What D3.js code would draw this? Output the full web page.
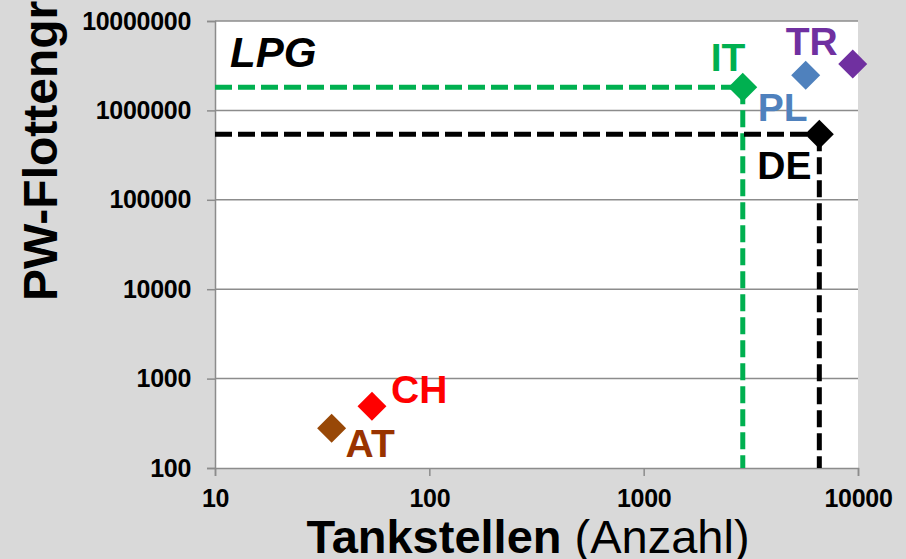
<!DOCTYPE html>
<html>
<head>
<meta charset="utf-8">
<script src="https://cdn.jsdelivr.net/npm/d3@7"></script>
<style>
    body { margin: 0; background: #d9d9d9; }
    svg { display: block; font-family: "Liberation Sans", Arial, sans-serif; }
</style>
</head>
<body>
<svg id="chart"></svg>
<script>
'use strict';

// LPG: number of filling stations vs. passenger car fleet, per country
var countries = ['AT', 'CH', 'IT', 'PL', 'TR', 'DE'];
var tankstellen = [35, 54, 2900, 5700, 9450, 6600];
var flotte = [278, 490, 1810000, 2480000, 3300000, 540000];
var xTicks = [10, 100, 1000, 10000];
var yTicks = [100, 1000, 10000, 100000, 1000000, 10000000];
// countries with reference lines to the axes
var markedCountries = ['IT', 'DE'];

var width = 906, height = 559;
var margin = { top: 21, right: 48, bottom: 91, left: 215 };

var colors = { AT: '#984807', CH: '#ff0000', IT: '#00b050', PL: '#4f81bd', TR: '#7030a0', DE: '#000000' };
var labelColors = { AT: '#993300', CH: '#ff0000', IT: '#00b050', PL: '#4f81bd', TR: '#7030a0', DE: '#000000' };
// label offset from the marker centre (text-anchor start, baseline)
var labelOffsets = { AT: [14, 29], CH: [19, -3], IT: [-32, -16], PL: [-48, 46], TR: [-67, -9], DE: [-62, 45] };

var svg = d3.select('#chart').attr('width', width).attr('height', height);

svg.append('rect').attr('width', width).attr('height', height).attr('fill', '#d9d9d9');

var x = d3.scaleLog().domain([10, 10000]).range([margin.left, width - margin.right]);
var y = d3.scaleLog().domain([100, 10000000]).range([height - margin.bottom, margin.top]);

var points = countries.map(function (c, i) {
    return { name: c, x: tankstellen[i], y: flotte[i] };
});

// plot area
svg.append('rect')
    .attr('x', x.range()[0]).attr('y', y.range()[1])
    .attr('width', x.range()[1] - x.range()[0])
    .attr('height', y.range()[0] - y.range()[1])
    .attr('fill', '#ffffff');

// horizontal gridlines
svg.append('g').selectAll('line')
    .data(yTicks.slice(1))
    .enter().append('line')
    .attr('x1', x.range()[0]).attr('x2', x.range()[1])
    .attr('y1', function (d) { return y(d); })
    .attr('y2', function (d) { return y(d); })
    .attr('stroke', '#8c8c8c').attr('stroke-width', 1.5);

// axes
var yAxis = svg.append('g')
    .attr('transform', 'translate(' + x.range()[0] + ',0)')
    .call(d3.axisLeft(y).tickValues(yTicks).tickFormat(d3.format('d')).tickSize(8).tickPadding(16));

var xAxis = svg.append('g')
    .attr('transform', 'translate(0,' + y.range()[0] + ')')
    .call(d3.axisBottom(x).tickValues(xTicks).tickFormat(d3.format('d')).tickSize(8).tickPadding(8));

[xAxis, yAxis].forEach(function (ax) {
    ax.select('.domain').attr('stroke', '#8c8c8c').attr('stroke-width', 1.5);
    ax.selectAll('.tick line').attr('stroke', '#8c8c8c').attr('stroke-width', 1.5);
    ax.selectAll('.tick text')
        .attr('fill', '#000')
        .style('font-family', '"Liberation Sans", Arial, sans-serif')
        .style('font-size', '25px')
        .style('font-weight', 'bold')
        .style('letter-spacing', '-0.3px');
});
xAxis.selectAll('.tick text').attr('dy', '0.9em');

// dashed reference lines
var refs = points.filter(function (p) { return markedCountries.indexOf(p.name) >= 0; });
var refG = svg.append('g');
refs.forEach(function (p) {
    refG.append('line')
        .attr('x1', x.range()[0]).attr('x2', x(p.x))
        .attr('y1', y(p.y)).attr('y2', y(p.y))
        .attr('stroke', colors[p.name]).attr('stroke-width', 5)
        .attr('stroke-dasharray', '17,6');
    refG.append('line')
        .attr('x1', x(p.x)).attr('x2', x(p.x))
        .attr('y1', y(p.y)).attr('y2', y.range()[0])
        .attr('stroke', colors[p.name]).attr('stroke-width', 5)
        .attr('stroke-dasharray', '17,6');
});

// diamond markers
svg.append('g').selectAll('path')
    .data(points)
    .enter().append('path')
    .attr('d', d3.symbol().type(d3.symbolSquare).size(420))
    .attr('transform', function (d) { return 'translate(' + x(d.x) + ',' + y(d.y) + ') rotate(45)'; })
    .attr('fill', function (d) { return colors[d.name]; });

// country labels
svg.append('g').selectAll('text')
    .data(points)
    .enter().append('text')
    .attr('x', function (d) { return x(d.x) + labelOffsets[d.name][0]; })
    .attr('y', function (d) { return y(d.y) + labelOffsets[d.name][1]; })
    .attr('fill', function (d) { return labelColors[d.name]; })
    .style('font-size', '39px')
    .style('font-weight', 'bold')
    .text(function (d) { return d.name; });

// chart label
svg.append('text')
    .attr('x', 230).attr('y', 67)
    .style('font-size', '42px')
    .style('font-weight', 'bold')
    .style('font-style', 'italic')
    .text('LPG');

// axis titles
var xTitle = svg.append('text')
    .attr('x', 528).attr('y', 553)
    .attr('text-anchor', 'middle')
    .style('font-size', '47px');
xTitle.append('tspan').style('font-weight', 'bold').text('Tankstellen');
xTitle.append('tspan').text(' (Anzahl)');

var yTitle = svg.append('text')
    .attr('transform', 'translate(57,301) rotate(-90)')
    .style('font-size', '48px');
yTitle.append('tspan').style('font-weight', 'bold').text('PW-Flottengröße');
yTitle.append('tspan').text(' (Anzahl)');
</script>
</body>
</html>
